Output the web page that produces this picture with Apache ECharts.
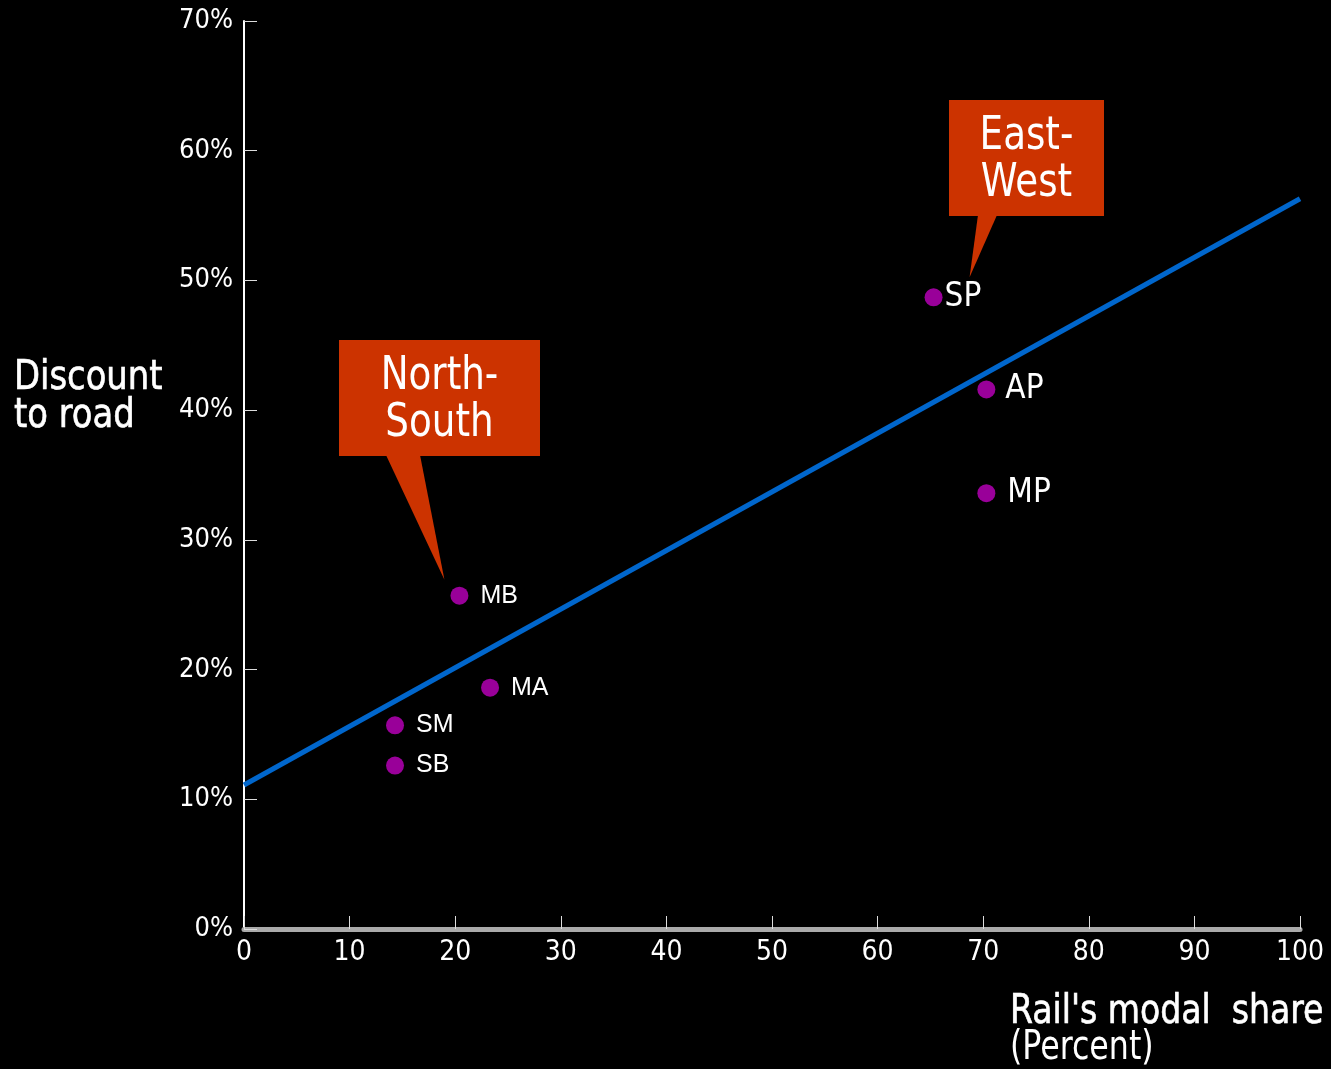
<!DOCTYPE html>
<html>
<head>
<meta charset="utf-8">
<script src="https://cdn.jsdelivr.net/npm/echarts@6/dist/echarts.min.js"></script>
<style>
html,body{margin:0;padding:0;background:#000;}
#chart{width:1331px;height:1069px;}
</style>
</head>
<body>
<div id="chart"></div>
<script>
const pointLabels = ['SP', 'AP', 'MP', 'MB', 'MA', 'SM', 'SB'];
const railShare = [65.3, 70.3, 70.3, 20.4, 23.3, 14.3, 14.3];
const discount = [48.7, 41.6, 33.6, 25.7, 18.6, 15.7, 12.6];
const trendX = [0, 100];
const trendY = [11.1, 56.3];
const xTicks = [0, 10, 20, 30, 40, 50, 60, 70, 80, 90, 100];
const yTicks = [0, 10, 20, 30, 40, 50, 60, 70];

const NARROW = "'Liberation Sans Narrow', 'DejaVu Sans Condensed', 'Arial Narrow', sans-serif";
const REG = "'Liberation Sans', Arial, sans-serif";

const chart = echarts.init(document.getElementById('chart'));

const bigLabels = {SP: {distance: 2}, AP: {distance: 10}, MP: {distance: 12}};
const scatterData = pointLabels.map((n, i) => {
  const big = bigLabels[n];
  return {
    value: [railShare[i], discount[i]],
    name: n,
    label: big ? {fontFamily: NARROW, fontSize: 33, distance: big.distance}
               : {fontFamily: REG, fontSize: 25, distance: 12}
  };
});

chart.setOption({
  backgroundColor: '#000',
  animation: false,
  grid: {left: 244, right: 31, top: 21, bottom: 140},
  xAxis: {
    type: 'value', min: 0, max: 100, interval: 10,
    axisLine: {show: true, lineStyle: {color: '#aaaaaa', width: 5}},
    axisTick: {show: true, inside: true, length: 13, lineStyle: {color: '#dddddd', width: 1}},
    axisLabel: {color: '#fff', fontFamily: NARROW, fontSize: 28, margin: 10,
      formatter: v => xTicks.includes(v) ? String(v) : ''},
    splitLine: {show: false}
  },
  yAxis: {
    type: 'value', min: 0, max: 70, interval: 10,
    axisLine: {show: true, lineStyle: {color: '#fff', width: 2}},
    axisTick: {show: true, inside: true, length: 13, lineStyle: {color: '#ddd', width: 1}},
    axisLabel: {color: '#fff', fontFamily: NARROW, fontSize: 27, margin: 11,
      formatter: v => yTicks.includes(v) ? v + '%' : ''},
    splitLine: {show: false}
  },
  series: [
    {
      type: 'line',
      data: trendX.map((x, i) => [x, trendY[i]]),
      showSymbol: false,
      lineStyle: {color: '#0066cc', width: 5},
      z: 2
    },
    {
      type: 'scatter',
      data: scatterData,
      symbolSize: 18,
      itemStyle: {color: '#990099', opacity: 1},
      label: {show: true, position: 'right', color: '#fff', opacity: 1, formatter: p => p.name},
      emphasis: {disabled: true},
      z: 3
    }
  ]
});

function callout(tipIdx, box, base, text) {
  const tip = chart.convertToPixel({gridIndex: 0}, [railShare[tipIdx], discount[tipIdx]]);
  return [
    {
      type: 'polygon',
      shape: {points: [[base[0], base[1]], [base[2], base[1]], [tip[0] + box.tx, tip[1] + box.ty]]},
      style: {fill: '#cc3300'}
    },
    {
      type: 'rect',
      shape: {x: box.x, y: box.y, width: box.w, height: box.h},
      style: {fill: '#cc3300'}
    },
    {
      type: 'text',
      x: box.x + box.w / 2, y: box.y + box.h / 2 + 3, scaleX: 0.9,
      style: {text: text, fill: '#fff', font: "46px " + NARROW, align: 'center', verticalAlign: 'middle', lineHeight: 47}
    }
  ];
}

chart.setOption({
  graphic: [
    ...callout(3, {x: 339, y: 340, w: 201, h: 116, tx: -15, ty: -16}, [386, 455, 420], 'North-\nSouth'),
    ...callout(0, {x: 949, y: 100, w: 155, h: 116, tx: 36, ty: -20}, [978, 215, 997], 'East-\nWest'),
    {type: 'text', x: 14, y: 360, scaleX: 0.94,
     style: {text: 'Discount\nto road', fill: '#fff', stroke: '#fff', lineWidth: 0.6, font: "40px " + NARROW, lineHeight: 38}},
    {type: 'text', x: 1010, y: 993, scaleX: 0.92,
     style: {text: "Rail's modal  share", fill: '#fff', stroke: '#fff', lineWidth: 0.6, font: "40px " + NARROW}},
    {type: 'text', x: 1010, y: 1029, scaleX: 0.88,
     style: {text: '(Percent)', fill: '#fff', font: "40px " + NARROW}}
  ]
});
</script>
</body>
</html>
